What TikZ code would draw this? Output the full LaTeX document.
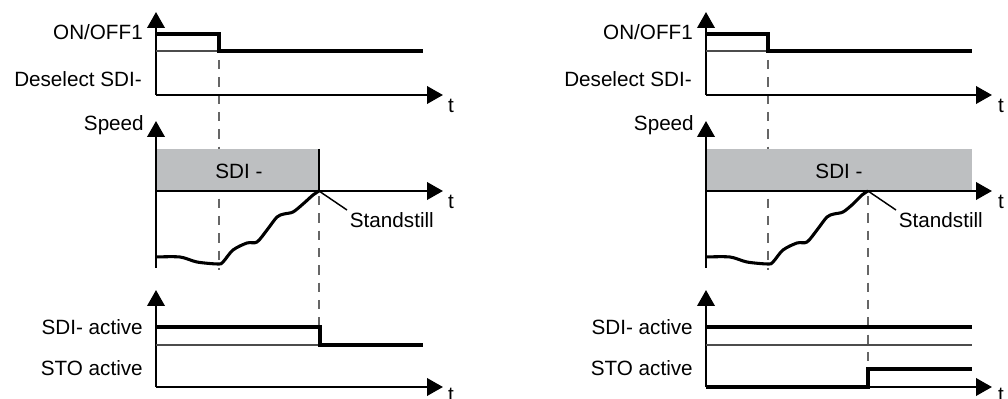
\documentclass[tikz,border=0pt]{standalone}
\usepackage{fontspec}
\setmainfont{Liberation Sans}
\usetikzlibrary{arrows.meta, positioning}
\definecolor{sdigray}{RGB}{189,191,193}

\begin{document}
\begin{tikzpicture}[
    x=0.75pt, y=-0.75pt,
    font=\fontsize{15.5}{17}\selectfont,
    >={Triangle[length=12pt,width=13pt]},
    axis/.style={->, line width=2pt},
    signal/.style={line width=2.6pt},
    reflevel/.style={line width=0.8pt, black!70},
    marker/.style={line width=1pt, black!60, dash pattern=on 7pt off 6pt},
    lbl/.style={anchor=east, inner sep=0pt},
    tlbl/.style={inner sep=0pt},
    sdibox/.style={fill=sdigray, draw=none},
    speed/.style={line width=2.3pt, smooth, tension=0.5},
    pointer/.style={line width=1.1pt}
]
\useasboundingbox (0,0) rectangle (1008,399);

% ===== TIME MARKERS (behind everything) =====
\draw[marker] (219,60) -- (219,270);
\draw[marker] (319,196) -- (319,325);
\draw[marker] (768,60) -- (768,270);
\draw[marker] (868,196) -- (868,385);

% ===== LEFT: ON/OFF1 =====
\coordinate (LAo) at (156,95);
\draw[axis] (LAo) -- (156,12);
\draw[axis] (LAo) -- (443,95) coordinate (LAx);
\draw[reflevel] (156,51) -- (219,51);
\draw[signal] (156,34) -| (219,51) -- (423,51);
\node[lbl] (Lon) at (143,32) {ON/OFF1};
\node[lbl] (Lds) at (142,79) {Deselect SDI-};
\node[tlbl] (Lt1) at (451,106) {t};

% ===== LEFT: SPEED =====
\draw[sdibox] (156,149) rectangle (319,191);
\node (Lsdi) at (239,171) {SDI -};
\draw[pointer] (319,149) -- (319,191) coordinate (Lss);
\draw[axis] (156,268) -- (156,121);
\draw[axis] (156,191) -- (443,191);
\node[lbl] (Lsp) at (144,125) {Speed};
\node[tlbl] (Lt2) at (451,202) {t};
\draw[speed] plot coordinates {(156,257) (180,257) (197,262) (218,264) (223,262)
  (233,250) (247,243) (257,242) (267,230) (277,217) (284,214) (293,212)
  (303,204) (313,195) (319,191)};
\node[anchor=north west, inner sep=2pt] (Lstand) at (347,210) {Standstill};
\draw[pointer] (Lss) -- (Lstand.north west);

% ===== LEFT: SDI- / STO ACTIVE =====
\draw[axis] (156,387) -- (156,290);
\draw[axis] (156,387) -- (443,387);
\draw[reflevel] (156,345) -- (320,345);
\draw[signal] (156,327) -| (320,345) -- (423,345);
\node[lbl] (Lsa) at (143,327) {SDI- active};
\node[lbl] (Lsto) at (143,368) {STO active};
\node[tlbl] (Lt3) at (451,395) {t};

% ===== RIGHT: ON/OFF1 =====
\draw[axis] (706,95) -- (706,12);
\draw[axis] (706,95) -- (992,95);
\draw[reflevel] (706,51) -- (768,51);
\draw[signal] (706,34) -| (768,51) -- (972,51);
\node[lbl] (Ron) at (693,32) {ON/OFF1};
\node[lbl] (Rds) at (692,79) {Deselect SDI-};
\node[tlbl] (Rt1) at (1001,106) {t};

% ===== RIGHT: SPEED =====
\draw[sdibox] (706,149) rectangle (972,191);
\node (Rsdi) at (839,171) {SDI -};
\coordinate (Rss) at (868,191);
\draw[axis] (706,268) -- (706,121);
\draw[axis] (706,191) -- (992,191);
\node[lbl] (Rsp) at (694,125) {Speed};
\node[tlbl] (Rt2) at (1001,202) {t};
\draw[speed] plot coordinates {(706,257) (730,257) (747,262) (768,264) (773,262)
  (783,250) (797,243) (807,242) (817,230) (827,217) (834,214) (843,212)
  (853,204) (862,195) (868,191)};
\node[anchor=north west, inner sep=2pt] (Rstand) at (896,210) {Standstill};
\draw[pointer] (Rss) -- (Rstand.north west);

% ===== RIGHT: SDI- / STO ACTIVE =====
\draw[axis] (706,387) -- (706,290);
\draw[axis] (706,387) -- (992,387);
\draw[reflevel] (706,345) -- (972,345);
\draw[signal] (706,327) -- (972,327);
\draw[signal] (706,387) -| (868,369) -- (972,369);
\node[lbl] (Rsa) at (693,327) {SDI- active};
\node[lbl] (Rsto) at (693,368) {STO active};
\node[tlbl] (Rt3) at (1001,395) {t};

\end{tikzpicture}
\end{document}
